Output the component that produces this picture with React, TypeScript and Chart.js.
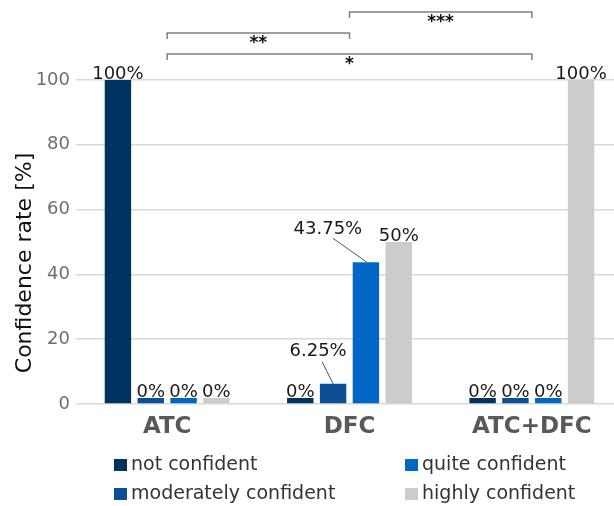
import React, { useEffect, useRef } from "react";
import { Chart, registerables } from "chart.js";

Chart.register(...registerables);

const categories = ["ATC", "DFC", "ATC+DFC"];
const seriesNames = ["not confident", "moderately confident", "quite confident", "highly confident"];
const notConfident = [100, 0, 0];
const moderatelyConfident = [0, 6.25, 0];
const quiteConfident = [0, 43.75, 0];
const highlyConfident = [0, 50, 100];
const yTicks = [0, 20, 40, 60, 80, 100];
const seriesColors = ["#00335f", "#0b5092", "#0068c4", "#cccccc"];
// significance brackets: [fromCategoryIndex, toCategoryIndex, label]
const brackets: [number, number, string][] = [
  [1, 2, "***"],
  [0, 1, "**"],
  [0, 2, "*"],
];
const yTitle = "Confidence rate [%]";

const FONT = "'DejaVu Sans', sans-serif";

const fmt = (v: number) => `${v}%`;

const overlayPlugin = {
  id: "overlay",
  afterDatasetsDraw(chart: any) {
    const ctx = chart.ctx;
    ctx.save();
    // value labels
    ctx.font = `18px ${FONT}`;
    ctx.fillStyle = "#1a1a1a";
    ctx.textAlign = "center";
    chart.data.datasets.forEach((ds: any, di: number) => {
      const meta = chart.getDatasetMeta(di);
      meta.data.forEach((bar: any, i: number) => {
        const v = ds.data[i];
        const x = bar.x;
        const top = Math.min(bar.y, bar.base);
        const text = fmt(v);
        if (di === 1 && i === 1) {
          ctx.textBaseline = "middle";
          ctx.fillText(text, x - 15, top - 32);
          ctx.strokeStyle = "#555";
          ctx.lineWidth = 1;
          ctx.beginPath();
          ctx.moveTo(x - 11, top - 22);
          ctx.lineTo(x, top);
          ctx.stroke();
        } else if (di === 2 && i === 1) {
          ctx.textBaseline = "middle";
          ctx.fillText(text, x - 38, top - 33);
          ctx.strokeStyle = "#555";
          ctx.lineWidth = 1;
          ctx.beginPath();
          ctx.moveTo(x - 33, top - 24);
          ctx.lineTo(x + 1, top);
          ctx.stroke();
        } else {
          ctx.textBaseline = "alphabetic";
          ctx.fillText(text, x, top - 1.5);
        }
      });
    });

    // brackets
    const xs = chart.scales.x;
    const levels = [12, 33, 54];
    brackets.forEach((b, k) => {
      const x1 = xs.getPixelForValue(b[0]);
      const x2 = xs.getPixelForValue(b[1]);
      const y = levels[k];
      ctx.strokeStyle = "#808080";
      ctx.lineWidth = 1.5;
      ctx.beginPath();
      ctx.moveTo(x1, y + 6);
      ctx.lineTo(x1, y);
      ctx.lineTo(x2, y);
      ctx.lineTo(x2, y + 6);
      ctx.stroke();
      ctx.fillStyle = "#111";
      ctx.font = `bold 17px ${FONT}`;
      ctx.textAlign = "center";
      ctx.textBaseline = "middle";
      ctx.fillText(b[2], (x1 + x2) / 2, y + 11);
    });

    // y title
    ctx.save();
    ctx.translate(25, 263);
    ctx.rotate(-Math.PI / 2);
    ctx.font = `22px ${FONT}`;
    ctx.fillStyle = "#111";
    ctx.textAlign = "center";
    ctx.textBaseline = "middle";
    ctx.fillText(yTitle, 0, 0);
    ctx.restore();

    // legend (two columns, column-major)
    const colX = [114, 405];
    const rowY = [470, 499];
    chart.data.datasets.forEach((ds: any, di: number) => {
      const col = Math.floor(di / 2);
      const row = di % 2;
      const bx = colX[col];
      const by = rowY[row];
      ctx.fillStyle = ds.backgroundColor;
      ctx.fillRect(bx, by - 11, 13, 12);
      ctx.fillStyle = "#333";
      ctx.font = `19px ${FONT}`;
      ctx.textAlign = "left";
      ctx.textBaseline = "alphabetic";
      ctx.fillText(ds.label, bx + 17, by);
    });
    ctx.restore();
  },
};

export default function App() {
  const ref = useRef<HTMLCanvasElement | null>(null);
  useEffect(() => {
    if (!ref.current) return;
    const values = [notConfident, moderatelyConfident, quiteConfident, highlyConfident];
    const chart = new Chart(ref.current, {
      type: "bar",
      data: {
        labels: categories,
        datasets: seriesNames.map((name, i) => ({
          label: name,
          data: values[i],
          backgroundColor: seriesColors[i],
          borderWidth: 0,
          minBarLength: 6,
          barPercentage: 0.805,
          categoryPercentage: 0.72,
        })),
      },
      options: {
        animation: false,
        responsive: false,
        devicePixelRatio: 1,
        layout: { padding: { top: 80, right: 7, left: 0, bottom: 0 } },
        plugins: {
          legend: { display: false },
          tooltip: { enabled: false },
          title: { display: false },
        },
        scales: {
          x: {
            grid: { display: false },
            border: { display: false },
            ticks: {
              color: "#595959",
              font: { family: FONT, size: 23, weight: "bold" },
              padding: 1,
            },
            afterFit: (s: any) => {
              s.height = 102;
            },
          },
          y: {
            min: 0,
            max: 100,
            afterBuildTicks: (s: any) => {
              s.ticks = yTicks.map((v) => ({ value: v }));
            },
            grid: { color: "#d9d9d9", lineWidth: 1.5, drawTicks: false },
            border: { display: false },
            ticks: {
              color: "#6e6e6e",
              font: { family: FONT, size: 18 },
              padding: 6,
            },
            afterFit: (s: any) => {
              s.width = 76;
            },
          },
        },
      },
      plugins: [overlayPlugin],
    });
    return () => chart.destroy();
  }, []);
  return (
    <div style={{ position: "fixed", left: 0, top: 0, width: 614, height: 506, overflow: "hidden", background: "#fff" }}>
      <canvas ref={ref} width={630} height={506} style={{ width: 630, height: 506, display: "block" }} />
    </div>
  );
}
